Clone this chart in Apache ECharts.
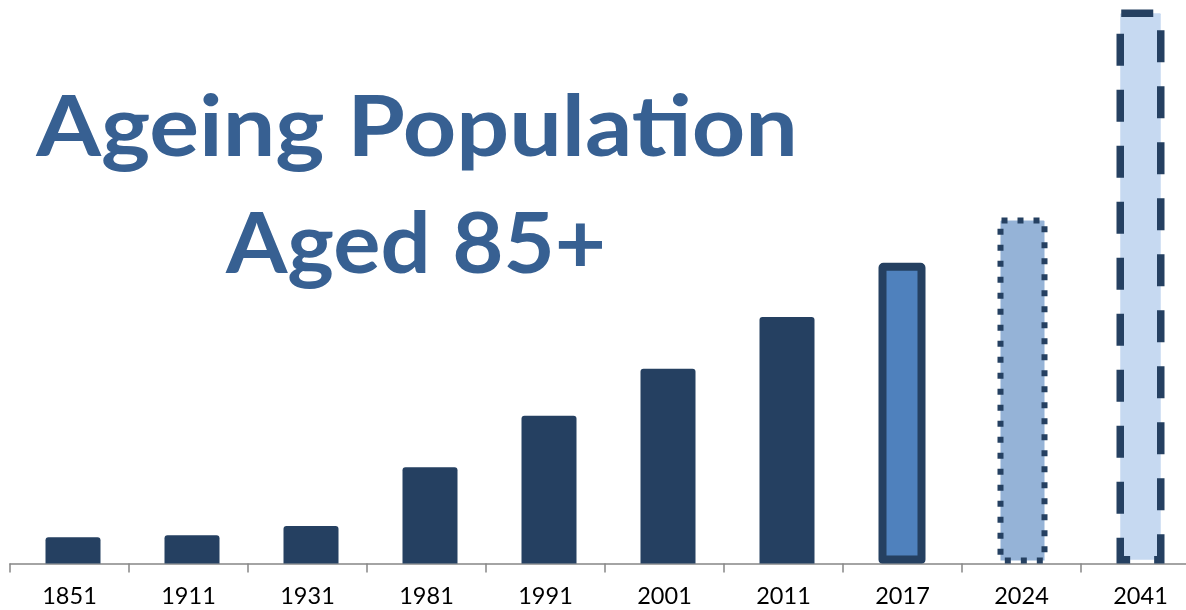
<!DOCTYPE html>
<html>
<head>
<meta charset="utf-8">
<script src="https://cdn.jsdelivr.net/npm/echarts@6/dist/echarts.min.js"></script>
<style>
html,body{margin:0;padding:0;background:#fff;overflow:hidden;width:1186px;height:610px;}
#chart{width:1200px;height:610px;}
</style>
</head>
<body>
<div id="chart"></div>
<script>
// Population aged 85+ (thousands)
const years = ['1851','1911','1931','1981','1991','2001','2011','2017','2024','2041'];
const values = [138, 148, 197, 506, 776, 1023, 1295, 1580, 1817, 2910];
// style group of each bar: 0 historic, 1 current, 2 near projection, 3 far projection
const groups = [0, 0, 0, 0, 0, 0, 0, 1, 2, 3];
const titleLines = ['Ageing Population', 'Aged 85+'];

const DARK = '#254061';
function pick(g) { return values.map((v, i) => groups[i] === g ? v : null); }

const chart = echarts.init(document.getElementById('chart'));
chart.setOption({
  animation: false,
  backgroundColor: '#ffffff',
  grid: { left: 10, top: 0, right: 0, bottom: 46.5, containLabel: false },
  xAxis: {
    type: 'category',
    data: years,
    boundaryGap: true,
    axisLine: { show: true, lineStyle: { color: '#868686', width: 1.5 } },
    axisTick: { show: true, length: 9, lineStyle: { color: '#868686', width: 1.5 } },
    axisLabel: { color: '#000000', fontFamily: 'Lato', fontSize: 23.5, margin: 21, interval: 0 }
  },
  yAxis: { type: 'value', min: 0, max: 2960, show: false, splitLine: { show: false } },
  graphic: [
    { type: 'text', x: 417, y: 129, scaleX: 1.11, z: 10,
      style: { text: titleLines[0], x: 0, y: 0, align: 'center', verticalAlign: 'middle',
               font: 'bold 84px Lato', fill: '#376092' } },
    { type: 'text', x: 416, y: 246, scaleX: 1.053, z: 10,
      style: { text: titleLines[1], x: 0, y: 0, align: 'center', verticalAlign: 'middle',
               font: 'bold 84px Lato', fill: '#376092' } }
  ],
  series: [
    { type: 'bar', data: pick(0), barWidth: 55, barGap: '-100%',
      itemStyle: { color: DARK, borderRadius: [3, 3, 0, 0] } },
    { type: 'bar', data: pick(1), barWidth: 47, barGap: '-100%',
      itemStyle: { color: '#4F81BD', borderColor: DARK, borderWidth: 8, borderJoin: 'round', borderRadius: [1, 1, 0, 0] } },
    { type: 'bar', data: pick(2), barWidth: 50, barGap: '-100%',
      itemStyle: { color: '#95B3D7', borderColor: DARK, borderWidth: 6, borderType: [6, 10], borderRadius: [1, 1, 0, 0] } },
    { type: 'bar', data: pick(3), barWidth: 48, barGap: '-100%',
      itemStyle: { color: '#C6D9F1', borderColor: DARK, borderWidth: 7.5, borderType: [32, 24], borderRadius: [1, 1, 0, 0] } }
  ]
});
</script>
</body>
</html>
